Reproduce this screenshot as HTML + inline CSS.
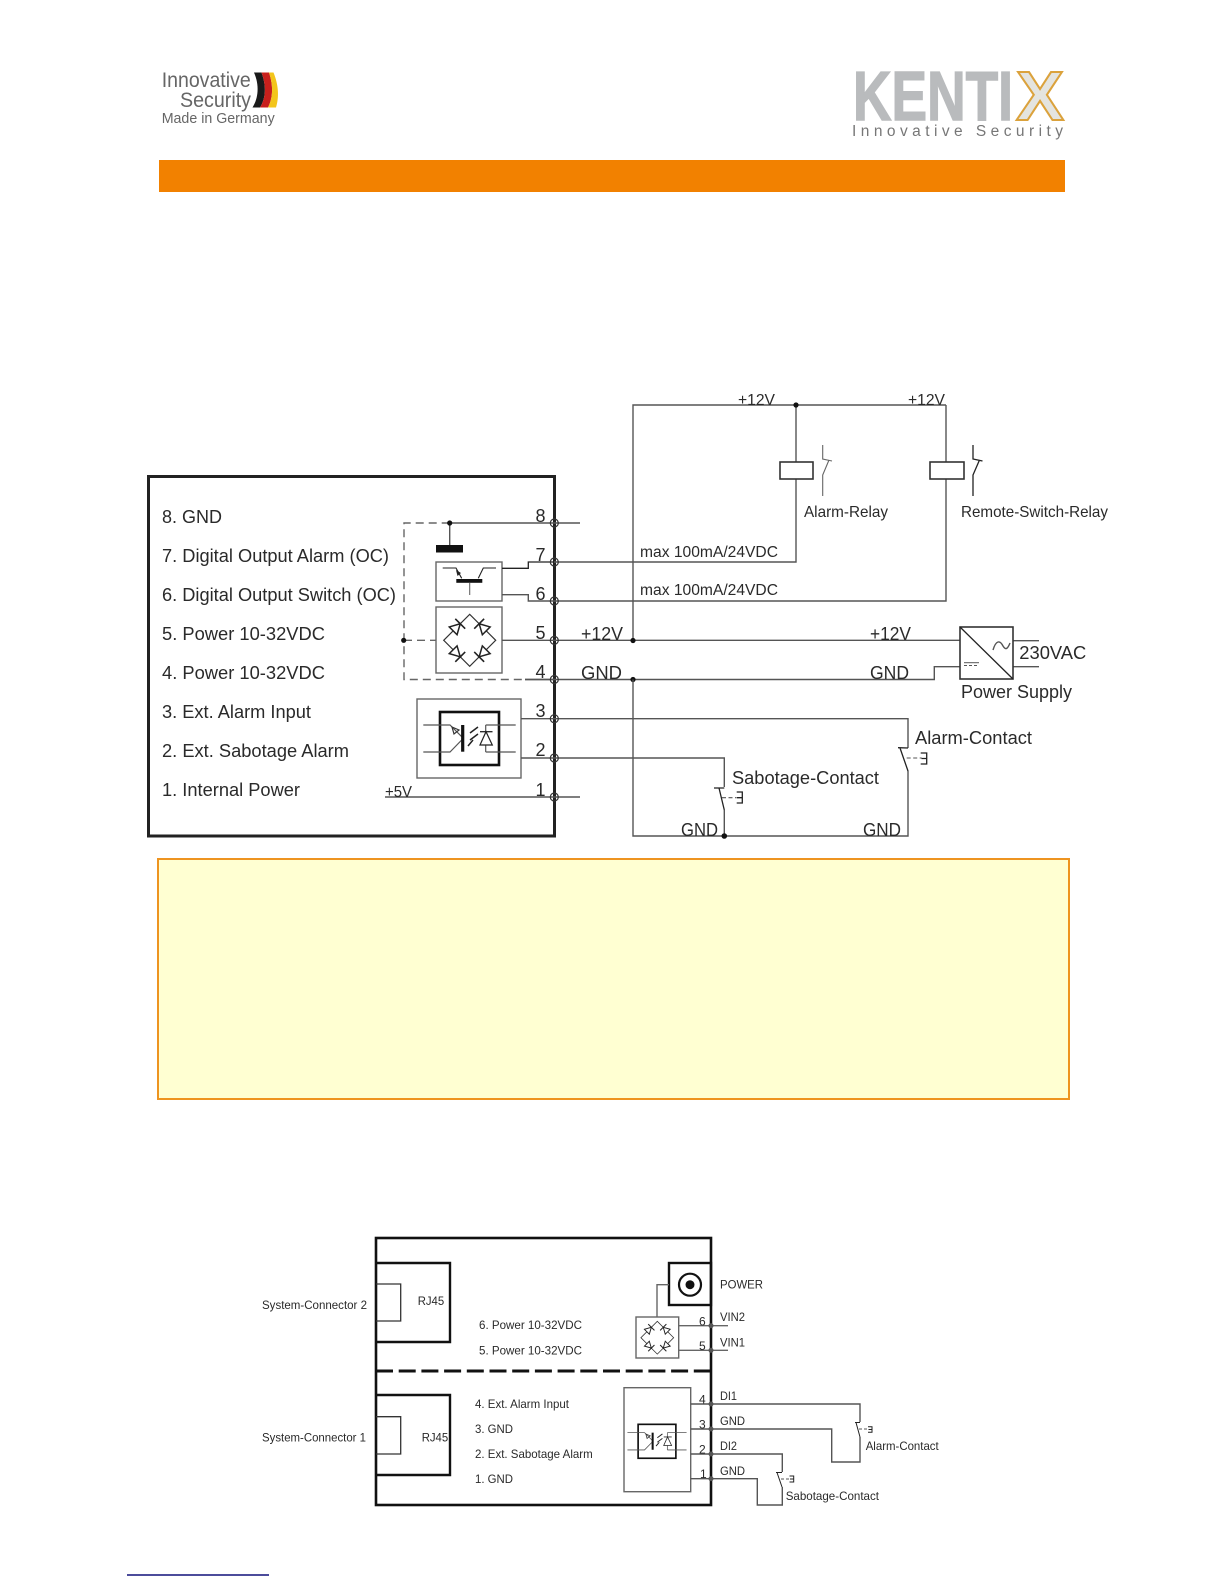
<!DOCTYPE html>
<html>
<head>
<meta charset="utf-8">
<title>KENTIX wiring diagram</title>
<style>
html,body{margin:0;padding:0;background:#fff;width:1224px;height:1584px;overflow:hidden}
svg{display:block;filter:blur(.35px)}
text{font-family:"Liberation Sans",Arial,sans-serif;fill:#2a2a2a}
.w{fill:none;stroke:#555;stroke-width:1.4}
.k{fill:none;stroke:#222;stroke-width:1.3}
.b{fill:none;stroke:#666;stroke-width:1.4}
.d{fill:none;stroke:#666;stroke-width:1.4;stroke-dasharray:8 5}
.q{fill:none;stroke:#555;stroke-width:1.1;stroke-dasharray:4 2.5}
.r{fill:none;stroke:#555;stroke-width:.9;stroke-dasharray:3 2}
.t1{fill:none;stroke:#222;stroke-width:1}
.pin{fill:none;stroke:#333;stroke-width:1.2}
.j{fill:#111}
.l{font-size:18px}
.s{font-size:12px}
</style>
</head>
<body>
<svg width="1224" height="1584" viewBox="0 0 1224 1584" xmlns="http://www.w3.org/2000/svg">
<defs>
<g id="diode">
  <polygon points="-5,-5.5 -5,5.5 5,0" fill="#fff" stroke="#222" stroke-width="1.5"/>
  <path d="M5,-7V7" stroke="#222" stroke-width="1.6" fill="none"/>
</g>
<g id="bridge">
  <path d="M-26,0L0,-26L26,0L0,26Z" fill="none" stroke="#333" stroke-width="1.2"/>
  <use href="#diode" transform="translate(-13,-13) rotate(-45)"/>
  <use href="#diode" transform="translate(13,-13) rotate(225)"/>
  <use href="#diode" transform="translate(-13,13) rotate(45)"/>
  <use href="#diode" transform="translate(13,13) rotate(135)"/>
</g>
<g id="opto">
  <rect x="440" y="712" width="59" height="53" fill="none" stroke="#111" stroke-width="2.6"/>
  <path d="M423.3,725H450L461.7,736.7M423.3,752H450L461.7,740" fill="none" stroke="#555" stroke-width="1.2"/>
  <path d="M462.7,725V751.7" stroke="#111" stroke-width="3.2"/>
  <polygon points="452,727 459,730 454,734" fill="none" stroke="#333" stroke-width="1.2"/>
  <path d="M470,733L478,727M470,740L478,734M468,746L473,740" stroke="#222" stroke-width="1.5" fill="none"/>
  <path d="M485.7,725V752M485.7,725H515.7M485.7,752H515.7" fill="none" stroke="#555" stroke-width="1.2"/>
  <polygon points="480,745 492.3,745 486,731.7" fill="#fff" stroke="#222" stroke-width="1.2"/>
  <path d="M480,731.7H492.5" stroke="#222" stroke-width="1.3"/>
</g>
</defs>

<!-- Header logos -->
<text x="161.7" y="87" font-size="21" style="fill:#666" textLength="89" lengthAdjust="spacingAndGlyphs">Innovative</text>
<text x="180" y="107" font-size="21" style="fill:#666" textLength="71" lengthAdjust="spacingAndGlyphs">Security</text>
<text x="161.7" y="123" font-size="14.5" style="fill:#666" textLength="113" lengthAdjust="spacingAndGlyphs">Made in Germany</text>
<path d="M254,72.5H261.5C266.5,86 266,98 260,107.5H252.5C258.5,98 259.5,85 254,72.5Z" fill="#1a1a1a"/>
<path d="M261.5,72.5H269C273.5,86 273,98 268,107.5H260C266,98 266.5,86 261.5,72.5Z" fill="#c8201c"/>
<path d="M269,72.5H273.5C279,86 279,98 276,107.5H268C273,98 273.5,86 269,72.5Z" fill="#f3c51b"/>

<text x="853" y="120" font-size="70" font-weight="bold" style="fill:#b9bbbd;stroke:#b9bbbd;stroke-width:1.4" textLength="160" lengthAdjust="spacingAndGlyphs">KENTI</text>
<text x="1016" y="120" font-size="70" font-weight="bold" style="fill:#e4e4df;stroke:#dba23c;stroke-width:2" textLength="48" lengthAdjust="spacingAndGlyphs">X</text>
<text x="852" y="136" font-size="15.5" style="fill:#777" textLength="211" lengthAdjust="spacing">Innovative Security</text>

<rect x="159" y="160" width="906" height="32" fill="#f28100"/>

<!-- Top diagram box -->
<rect x="148.5" y="476.5" width="406" height="359.5" fill="none" stroke="#222" stroke-width="3"/>

<text class="l" x="162" y="523" textLength="60" lengthAdjust="spacingAndGlyphs">8. GND</text>
<text class="l" x="162" y="562" textLength="227" lengthAdjust="spacingAndGlyphs">7. Digital Output Alarm (OC)</text>
<text class="l" x="162" y="601" textLength="234" lengthAdjust="spacingAndGlyphs">6. Digital Output Switch (OC)</text>
<text class="l" x="162" y="640" textLength="163" lengthAdjust="spacingAndGlyphs">5. Power 10-32VDC</text>
<text class="l" x="162" y="679" textLength="163" lengthAdjust="spacingAndGlyphs">4. Power 10-32VDC</text>
<text class="l" x="162" y="718" textLength="149" lengthAdjust="spacingAndGlyphs">3. Ext. Alarm Input</text>
<text class="l" x="162" y="757" textLength="187" lengthAdjust="spacingAndGlyphs">2. Ext. Sabotage Alarm</text>
<text class="l" x="162" y="796" textLength="138" lengthAdjust="spacingAndGlyphs">1. Internal Power</text>

<!-- Pin numbers -->
<text class="l" x="535.5" y="522">8</text>
<text class="l" x="535.5" y="561">7</text>
<text class="l" x="535.5" y="600">6</text>
<text class="l" x="535.5" y="639">5</text>
<text class="l" x="535.5" y="678">4</text>
<text class="l" x="535.5" y="717">3</text>
<text class="l" x="535.5" y="756">2</text>
<text class="l" x="535.5" y="796">1</text>

<!-- Internal -->
<path class="d" d="M449.7,523H404V679.5H525"/>
<path class="d" d="M404,640.3H436"/>
<path class="w" d="M449.7,523H580M449.7,523V546M525,679.5H554"/>
<rect x="436" y="545" width="27" height="7.5" fill="#111"/>
<circle class="j" cx="449.7" cy="523" r="2.6"/>
<circle class="j" cx="403.7" cy="640.3" r="2.6"/>

<rect class="b" x="436" y="562" width="66" height="39"/>
<path d="M442.7,568H456L461.7,578.3M478.3,578.3L483.3,568H496" fill="none" stroke="#222" stroke-width="1.1"/>
<rect x="456.3" y="579" width="26" height="3.8" fill="#111"/>
<path d="M469.7,582.7V595" stroke="#666" stroke-width="1.1"/>
<polygon points="456,570 461,573 457.5,576" fill="#222"/>
<path d="M502,568.3H528.3V562H554" class="k"/>
<path d="M502,594.7H528.3V601H554" class="w"/>

<rect class="b" x="436" y="607" width="66" height="66"/>
<use href="#bridge" transform="translate(469.7,640.3)"/>
<path class="w" d="M502,640.3H960"/>

<rect class="b" x="417" y="699" width="104" height="79"/>
<use href="#opto"/>

<!-- External wires -->
<path class="w" d="M554,562H796V479M796,462V405"/>
<path class="w" d="M554,601H946V479M946,462V405"/>
<path class="w" d="M633,640.5V405H946"/>
<circle class="j" cx="796" cy="405" r="2.6"/>
<circle class="j" cx="633" cy="640.5" r="2.6"/>
<path class="w" d="M525,679.5H934.3V666.7H960"/>
<circle class="j" cx="633" cy="679.5" r="2.6"/>
<path class="w" d="M633,679.5V836H908V770.7"/>
<path class="w" d="M521,718.7H908V748"/>
<path class="w" d="M521,758H724.3V787"/>
<path class="w" d="M724.3,810V836"/>
<circle class="j" cx="724.3" cy="836" r="2.8"/>
<path class="w" d="M385,797H580"/>
<path class="w" d="M1013,640.7H1039M1013,666.7H1039"/>

<!-- Relays -->
<rect x="780" y="462" width="33" height="17" fill="#fff" stroke="#333" stroke-width="1.6"/>
<rect x="930" y="462" width="34" height="17" fill="#fff" stroke="#333" stroke-width="1.6"/>
<path fill="none" stroke="#666" stroke-width="1.1" d="M822.7,445V459L832,461M822.7,496V475L829,460"/>
<path class="k" d="M973,445V459L982.5,461M973,496V475L979.5,460"/>

<!-- Contacts -->
<path class="k" d="M898,747.7L908,748M900,748L908,771"/>
<path class="q" d="M906.7,758H921.7"/>
<path class="k" d="M920.7,753H926.7V764H920.7M921.5,758.5H926.7"/>
<path class="k" d="M714,788H724.3M719,788L724.3,810"/>
<path class="q" d="M722,797.7H736.7"/>
<path class="k" d="M736.7,792H742.3V803H736.7M737,797.7H742.3"/>

<!-- Power supply -->
<rect x="960" y="627" width="53" height="52" fill="#fff" stroke="#333" stroke-width="1.6"/>
<path class="k" d="M960,627L1013,679"/>
<path class="w" d="M993,650C996,640 1000,640 1003,646C1006,651 1008,648 1010,643" stroke-width="1"/>
<path fill="none" stroke="#555" stroke-width="1" d="M964,662.7H979"/>
<path class="r" d="M964,665.5H979"/>

<!-- Pin circles -->
<circle class="pin" cx="554.3" cy="523" r="4"/>
<circle class="pin" cx="554.3" cy="562" r="4"/>
<circle class="pin" cx="554.3" cy="601" r="4"/>
<circle class="pin" cx="554.3" cy="640.4" r="4"/>
<circle class="pin" cx="554.3" cy="679.5" r="4"/>
<circle class="pin" cx="554.3" cy="718.7" r="4"/>
<circle class="pin" cx="554.3" cy="758" r="4"/>
<circle class="pin" cx="554.3" cy="797" r="4"/>

<!-- Top diagram labels -->
<text x="738" y="405" font-size="15.5" textLength="37" lengthAdjust="spacingAndGlyphs">+12V</text>
<text x="908" y="405" font-size="15.5" textLength="37" lengthAdjust="spacingAndGlyphs">+12V</text>
<text x="804" y="517" font-size="16" textLength="84" lengthAdjust="spacingAndGlyphs">Alarm-Relay</text>
<text x="961" y="517" font-size="16" textLength="147" lengthAdjust="spacingAndGlyphs">Remote-Switch-Relay</text>
<text x="640" y="557" font-size="15.5" textLength="138" lengthAdjust="spacingAndGlyphs">max 100mA/24VDC</text>
<text x="640" y="595" font-size="15.5" textLength="138" lengthAdjust="spacingAndGlyphs">max 100mA/24VDC</text>
<text class="l" x="581" y="640" textLength="42" lengthAdjust="spacingAndGlyphs">+12V</text>
<text class="l" x="581" y="679" textLength="41" lengthAdjust="spacingAndGlyphs">GND</text>
<text class="l" x="870" y="640" textLength="41" lengthAdjust="spacingAndGlyphs">+12V</text>
<text class="l" x="870" y="679" textLength="39" lengthAdjust="spacingAndGlyphs">GND</text>
<text class="l" x="1019.3" y="659" textLength="67" lengthAdjust="spacingAndGlyphs">230VAC</text>
<text class="l" x="961" y="698" textLength="111" lengthAdjust="spacingAndGlyphs">Power Supply</text>
<text class="l" x="915" y="744" textLength="117" lengthAdjust="spacingAndGlyphs">Alarm-Contact</text>
<text class="l" x="732" y="784" textLength="147" lengthAdjust="spacingAndGlyphs">Sabotage-Contact</text>
<text class="l" x="681" y="836" textLength="37" lengthAdjust="spacingAndGlyphs">GND</text>
<text class="l" x="863" y="836" textLength="38" lengthAdjust="spacingAndGlyphs">GND</text>
<text x="385" y="797" font-size="15.5" textLength="27" lengthAdjust="spacingAndGlyphs">+5V</text>

<!-- Yellow note -->
<rect x="158" y="859" width="911" height="240" fill="#ffffd2" stroke="#ee9420" stroke-width="2"/>

<!-- Bottom diagram -->
<rect x="376" y="1238" width="335" height="267" fill="none" stroke="#111" stroke-width="2.6"/>
<path d="M376,1371H711" stroke="#111" stroke-width="3" stroke-dasharray="17 5.7" fill="none"/>
<path d="M376,1263H450V1342H376" fill="none" stroke="#111" stroke-width="2.4"/>
<path d="M376,1284H400.7V1321H376" fill="none" stroke="#333" stroke-width="1.3"/>
<path d="M376,1395H450V1475H376" fill="none" stroke="#111" stroke-width="2.4"/>
<path d="M376,1416.7H400.7V1454H376" fill="none" stroke="#333" stroke-width="1.3"/>
<rect x="669" y="1263" width="42" height="42" fill="none" stroke="#111" stroke-width="2.4"/>
<circle cx="690" cy="1284.7" r="11" fill="none" stroke="#111" stroke-width="2.2"/>
<circle cx="690" cy="1284.7" r="4.5" fill="#111"/>
<path class="b" d="M669,1284.7H657V1317"/>
<rect class="b" x="636" y="1317" width="42.7" height="41"/>
<use href="#bridge" transform="translate(657.3,1337.7) scale(.63)"/>
<path class="b" d="M678.7,1325.7H728M678.7,1350.3H728"/>
<rect class="b" x="624" y="1387.7" width="66.7" height="104"/>
<use href="#opto" transform="translate(657,1441.3) scale(.64) translate(-469.5,-738.5)"/>
<path class="w" d="M690.7,1404H860V1422M860,1437V1462H831.7V1429H690.7"/>
<path class="w" d="M690.7,1454H782.3V1472M782.3,1487V1505H757.3V1478.7H690.7"/>
<path class="t1" d="M855,1422.5H860M856,1422.5L860,1437"/>
<path class="r" d="M859,1429H868"/>
<path class="t1" d="M868,1426.7H872V1432.3H868M868.5,1429.5H872"/>
<path class="t1" d="M776,1472.5H782M777,1472.5L782,1487"/>
<path class="r" d="M781,1479H790"/>
<path class="t1" d="M789.5,1476H793.7V1482H789.5M790,1479H793.7"/>
<g fill="#555">
<circle cx="711" cy="1325.7" r="2.5"/><circle cx="711" cy="1350.3" r="2.5"/>
<circle cx="711" cy="1404" r="2.5"/><circle cx="711" cy="1429" r="2.5"/>
<circle cx="711" cy="1454" r="2.5"/><circle cx="711" cy="1478.7" r="2.5"/>
</g>

<text class="s" x="262" y="1309" textLength="105" lengthAdjust="spacingAndGlyphs">System-Connector 2</text>
<text class="s" x="262" y="1441.7" textLength="104" lengthAdjust="spacingAndGlyphs">System-Connector 1</text>
<text class="s" x="417.7" y="1305" textLength="26.5" lengthAdjust="spacingAndGlyphs">RJ45</text>
<text class="s" x="421.7" y="1441.7" textLength="26.5" lengthAdjust="spacingAndGlyphs">RJ45</text>
<text class="s" x="479" y="1329" textLength="103" lengthAdjust="spacingAndGlyphs">6. Power 10-32VDC</text>
<text class="s" x="479" y="1354.7" textLength="103" lengthAdjust="spacingAndGlyphs">5. Power 10-32VDC</text>
<text class="s" x="475" y="1408" textLength="94" lengthAdjust="spacingAndGlyphs">4. Ext. Alarm Input</text>
<text class="s" x="475" y="1433" textLength="38" lengthAdjust="spacingAndGlyphs">3. GND</text>
<text class="s" x="475" y="1458" textLength="117.7" lengthAdjust="spacingAndGlyphs">2. Ext. Sabotage Alarm</text>
<text class="s" x="475" y="1483" textLength="38" lengthAdjust="spacingAndGlyphs">1. GND</text>
<text class="s" x="720" y="1288.7" textLength="43" lengthAdjust="spacingAndGlyphs">POWER</text>
<text class="s" x="720" y="1321" textLength="25" lengthAdjust="spacingAndGlyphs">VIN2</text>
<text class="s" x="720" y="1346.7" textLength="25" lengthAdjust="spacingAndGlyphs">VIN1</text>
<text class="s" x="720" y="1400" textLength="17" lengthAdjust="spacingAndGlyphs">DI1</text>
<text class="s" x="720" y="1425" textLength="25" lengthAdjust="spacingAndGlyphs">GND</text>
<text class="s" x="720" y="1450" textLength="17" lengthAdjust="spacingAndGlyphs">DI2</text>
<text class="s" x="720" y="1475" textLength="25" lengthAdjust="spacingAndGlyphs">GND</text>
<text class="s" x="699" y="1325.5">6</text>
<text class="s" x="699" y="1350">5</text>
<text class="s" x="699" y="1403.5">4</text>
<text class="s" x="699" y="1428.5">3</text>
<text class="s" x="699" y="1453.5">2</text>
<text class="s" x="700" y="1478">1</text>
<text class="s" x="865.7" y="1450" textLength="73" lengthAdjust="spacingAndGlyphs">Alarm-Contact</text>
<text class="s" x="785.7" y="1500" textLength="93.3" lengthAdjust="spacingAndGlyphs">Sabotage-Contact</text>

<!-- Footer rule -->
<path d="M127,1575H269" stroke="#10107a" stroke-width="1.4"/>
</svg>
</body>
</html>
